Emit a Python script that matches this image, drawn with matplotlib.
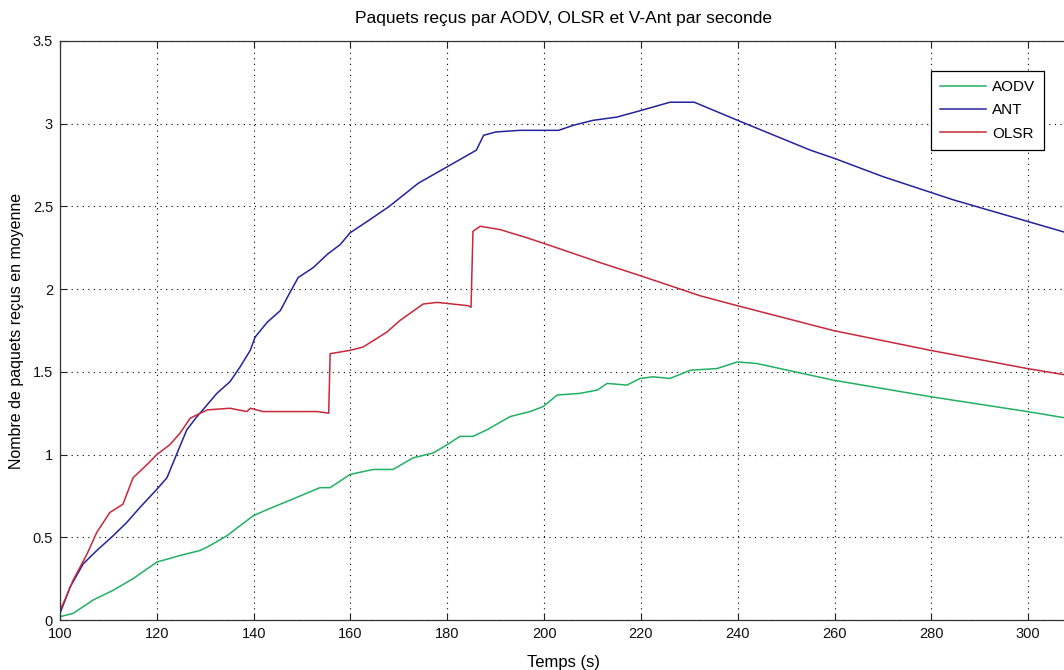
"""Average packets received per second for AODV, ANT and OLSR."""

import matplotlib

matplotlib.use("Agg")
import matplotlib.pyplot as plt

# Sampled curves: time (s) and mean received packets
aodv_t = [100, 102.7, 106.8, 111, 115.1, 120, 124.8, 128.9, 131, 134.5, 139.9,
          143, 148, 153.7, 155.8, 159.9, 164.7, 168.8, 172.9, 177.1, 180, 182.6,
          185.3, 188.2, 193, 197.1, 199.8, 202.7, 207.4, 211, 213, 217.1, 219.8,
          222.5, 226, 230.2, 235.7, 239.9, 244, 259.7, 279.8, 299.8, 308]
aodv_y = [0.02, 0.04, 0.12, 0.18, 0.25, 0.35, 0.39, 0.42, 0.45, 0.51, 0.63,
          0.67, 0.73, 0.80, 0.80, 0.88, 0.91, 0.91, 0.98, 1.01, 1.06, 1.11,
          1.11, 1.15, 1.23, 1.26, 1.29, 1.36, 1.37, 1.39, 1.43, 1.42, 1.46,
          1.47, 1.46, 1.51, 1.52, 1.56, 1.55, 1.45, 1.35, 1.26, 1.22]

ant_t = [100, 102.1, 104.8, 107.6, 111, 113.8, 116.5, 120, 122.1, 124.2, 126.2,
         128.3, 129.5, 132.4, 135.1, 137.2, 139.3, 140.3, 142.8, 145.5, 147.5,
         149.2, 152.3, 155.2, 157.9, 159.9, 164, 168, 174, 180, 186, 187.5, 190,
         195, 200, 203, 206, 210, 215, 220, 226, 231, 240, 255, 260, 270, 284.5,
         299.8, 308]
ant_y = [0.04, 0.20, 0.34, 0.42, 0.51, 0.59, 0.68, 0.79, 0.86, 1.01, 1.15,
         1.23, 1.27, 1.37, 1.44, 1.53, 1.63, 1.71, 1.80, 1.87, 1.98,
         2.07, 2.13, 2.21, 2.27, 2.34, 2.42, 2.50, 2.64, 2.74, 2.84, 2.93, 2.95,
         2.96, 2.96, 2.96, 2.99, 3.02, 3.04, 3.08, 3.13, 3.13, 3.02, 2.84, 2.79,
         2.68, 2.54, 2.41, 2.34]

olsr_t = [100, 101, 102.7, 105.6, 107.6, 110.3, 113, 115.1, 118, 120, 122.7,
          124.8, 126.9, 130.4, 135.1, 138.6, 139.3, 141.9, 147.5, 153.1, 155.5,
          155.8, 157.9, 159.9, 162.6, 167.5, 170.2, 175, 177.9, 184.3, 184.9,
          185.3, 186.8, 190.9, 196.5, 200.6, 211.6, 220, 232.2, 239.9, 259.7,
          279.8, 299.8, 308]
olsr_y = [0.06, 0.12, 0.24, 0.40, 0.53, 0.65, 0.70, 0.86, 0.94, 1.00, 1.06,
          1.13, 1.22, 1.27, 1.28, 1.26, 1.28, 1.26, 1.26, 1.26, 1.25,
          1.61, 1.62, 1.63, 1.65, 1.74, 1.81, 1.91, 1.92, 1.90, 1.89,
          2.35, 2.38, 2.36, 2.31, 2.27, 2.16, 2.08, 1.96, 1.90, 1.75,
          1.63, 1.52, 1.48]

x_ticks = list(range(100, 320, 20))
y_ticks = [0, 0.5, 1, 1.5, 2, 2.5, 3, 3.5]
y_tick_labels = ["0", "0.5", "1", "1.5", "2", "2.5", "3", "3.5"]

plt.rcParams["font.family"] = ["Liberation Sans", "DejaVu Sans"]
plt.rcParams["font.size"] = 11

fig = plt.figure(figsize=(10.64, 6.70), dpi=100)
# axes run a little past the right border, as in the exported figure
ax = fig.add_axes([60 / 1064, 50 / 670, 1007 / 1064, 579 / 670])

ax.plot(aodv_t, aodv_y, color="#22b062", lw=1.1, label="AODV")
ax.plot(ant_t, ant_y, color="#23239c", lw=1.1, label="ANT")
ax.plot(olsr_t, olsr_y, color="#c8283a", lw=1.1, label="OLSR")

ax.set_xlim(100, 308)
ax.set_ylim(0, 3.5)
ax.set_xticks(x_ticks)
ax.set_yticks(y_ticks)
ax.set_yticklabels(y_tick_labels)
ax.tick_params(direction="in", length=5, top=True, right=False,
               colors="#222222", labelcolor="#111111", labelsize=10.5, pad=5)
ax.grid(True, color="black", linestyle=(0, (1, 4)), linewidth=0.8)
for spine in ax.spines.values():
    spine.set_color("#333333")
    spine.set_linewidth(0.9)

ax.set_title("Paquets reçus par AODV, OLSR et V-Ant par seconde",
             fontsize=12.5, pad=13)
ax.set_xlabel("Temps (s)", fontsize=12, labelpad=10)
ax.set_ylabel("Nombre de paquets reçus en moyenne", fontsize=11.5, labelpad=6)

legend = ax.legend(loc="upper left", bbox_to_anchor=(871 / 1007, 1 - 30 / 579),
                   fancybox=False, framealpha=1, edgecolor="black",
                   handlelength=3.0, handletextpad=0.4, labelspacing=0.6,
                   borderpad=0.6, borderaxespad=0, fontsize=11)
legend.get_frame().set_linewidth(0.9)

fig.savefig("out.png", dpi=100)
